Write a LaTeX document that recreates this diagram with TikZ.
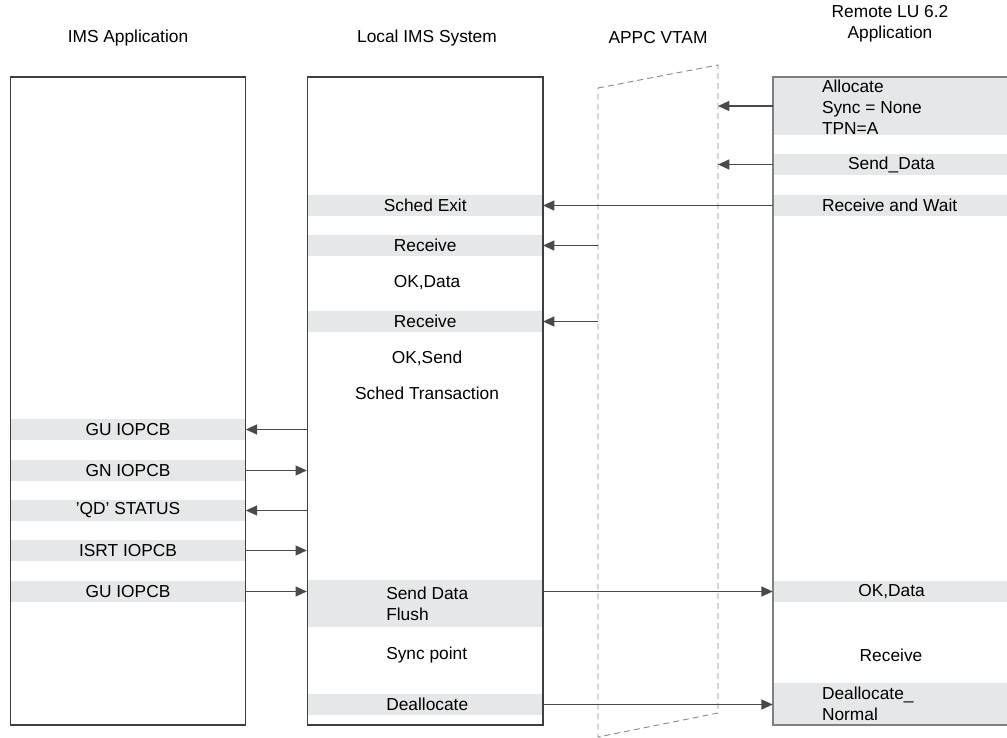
\documentclass[tikz,border=0pt]{standalone}
\usepackage{fontspec}
\setmainfont{Liberation Sans}
\usetikzlibrary{arrows.meta}

\definecolor{bandgray}{HTML}{E6E7E8}
\definecolor{linegray}{HTML}{3F3F3F}
\definecolor{arrowgray}{HTML}{4A4A4C}
\definecolor{dashgray}{HTML}{8C8C8C}

\begin{document}
\begin{tikzpicture}[x=0.75pt, y=-0.75pt, font=\fontsize{13}{15.5}\selectfont]
    % Styles
    \tikzstyle{box} = [rectangle, draw=linegray, line width=1pt, minimum width=176.25pt, minimum height=486pt, inner sep=0pt]
    \tikzstyle{band} = [rectangle, fill=bandgray, inner sep=0pt, minimum width=176.25pt, minimum height=15.75pt, text centered]
    \tikzstyle{remband} = [band, minimum width=177.75pt]
    \tikzstyle{txt} = [inner sep=0pt, align=left]
    \tikzstyle{arrow} = [draw=arrowgray, line width=1pt, -{Triangle[length=8.5pt, width=7.5pt]}]
    \tikzstyle{vtam} = [draw=dashgray, line width=0.7pt, dash pattern=on 4.5pt off 3pt]

    \useasboundingbox (0,0) rectangle (1007,738);

    % Column headings
    \node (hims) at (128,38) {IMS Application};
    \node (hlocal) at (427,38) {Local IMS System};
    \node (happc) at (658,38) {APPC VTAM};
    \node (hremote) [align=center] at (890,24) {Remote LU 6.2\\Application};

    % IMS application calls
    \node (gu1) [band] at (128,429.5) {GU IOPCB};
    \node (gn) [band] at (128,470.5) {GN IOPCB};
    \node (qd) [band] at (128,510.5) {'QD' STATUS};
    \node (isrt) [band] at (128,550.5) {ISRT IOPCB};
    \node (gu2) [band] at (128,591.5) {GU IOPCB};

    % Local IMS system
    \node (sched) [band] at (425.25,205.5) {Sched Exit};
    \node (rcv1) [band] at (425.25,245.5) {Receive};
    \node (okdata1) [txt] at (427,283) {OK,Data};
    \node (rcv2) [band] at (425.25,321.5) {Receive};
    \node (oksend) [txt] at (427,358) {OK,Send};
    \node (schedtp) [txt] at (427,393) {Sched Transaction};
    \node (send) [band, minimum height=35.25pt] at (425.25,603.5) {};
    \node (sendtxt) [txt, anchor=west] at ([xshift=58.9pt]send.west) {Send Data\\Flush};
    \node (syncpt) [txt, anchor=west] at (386,655) {Sync point};
    \node (dealloc) [band] at (425.25,704.5) {};
    \node (dealloctxt) [txt, anchor=west] at ([xshift=58.9pt]dealloc.west) {Deallocate};

    % Remote LU 6.2 application
    \node (alloc) [remband, minimum height=43.5pt] at (891.5,106) {};
    \node (alloctxt) [txt, anchor=west] at ([xshift=36.75pt, yshift=-1pt]alloc.west) {Allocate\\Sync = None\\TPN=A};
    \node (senddata) [remband] at (891.5,164.5) {Send\_Data};
    \node (rwait) [remband] at (891.5,205.5) {};
    \node (rwaittxt) [txt, anchor=west] at ([xshift=36.75pt]rwait.west) {Receive and Wait};
    \node (okdata2) [remband] at (891.5,591.5) {OK,Data};
    \node (rcv3) [txt] at (891,655) {Receive};
    \node (dealnorm) [remband, minimum height=31.5pt] at (891.5,704) {};
    \node (dealnormtxt) [txt, anchor=west] at ([xshift=36.75pt]dealnorm.west) {Deallocate\_\\Normal};

    % Boxes
    \node (imsbox) [box] at (128,401) {};
    \node (localbox) [box, minimum width=176.6pt] at (425.25,401) {};
    \node (remotebox) [box, draw=gray, minimum width=177.75pt] at (891.5,401) {};

    % APPC VTAM
    \coordinate (vtl) at (598,88);
    \coordinate (vtr) at (718,65);
    \coordinate (vbr) at (718,713);
    \coordinate (vbl) at (598,737);
    \draw [vtam] (vtl) -- (vtr) -- (vbr) -- (vbl) -- cycle;

    % Arrows
    \draw [arrow] (alloc.west) -- (alloc.west -| vtr);
    \draw [arrow] (senddata.west) -- (senddata.west -| vtr);
    \draw [arrow] (rwait.west) -- (sched.east);
    \draw [arrow] (rcv1.east -| vtl) -- (rcv1.east);
    \draw [arrow] (rcv2.east -| vtl) -- (rcv2.east);
    \draw [arrow] (gu1.east -| localbox.west) -- (gu1.east);
    \draw [arrow] (gn.east) -- (gn.east -| localbox.west);
    \draw [arrow] (qd.east -| localbox.west) -- (qd.east);
    \draw [arrow] (isrt.east) -- (isrt.east -| localbox.west);
    \draw [arrow] (gu2.east) -- (gu2.east -| localbox.west);
    \draw [arrow] (okdata2.west -| send.east) -- (okdata2.west);
    \draw [arrow] (dealloc.east) -- (dealloc.east -| dealnorm.west);

\end{tikzpicture}
\end{document}
